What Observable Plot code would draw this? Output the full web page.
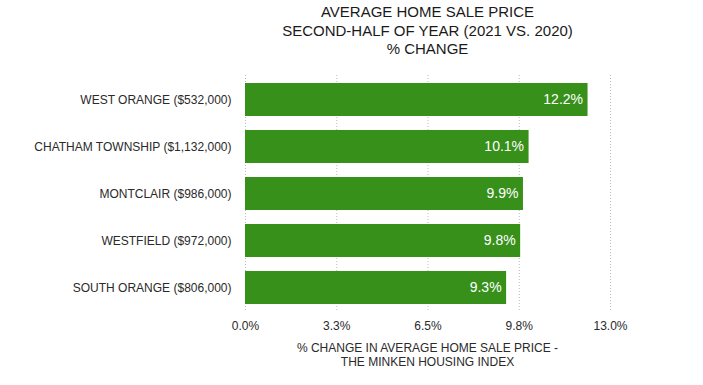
<!DOCTYPE html>
<html>
<head>
<meta charset="utf-8">
<script src="https://cdn.jsdelivr.net/npm/d3@7"></script>
<script src="https://cdn.jsdelivr.net/npm/@observablehq/plot@0.6"></script>
<style>
  html, body { margin: 0; padding: 0; background: #fff; }
  body { width: 703px; height: 385px; overflow: hidden; font-family: "Liberation Sans", Arial, Helvetica, sans-serif; }
  #title { margin-left: 245px; width: 365px; height: 66px; text-align: center; font-size: 15px; line-height: 18.5px; color: #1a1a1a; padding-top: 3px; box-sizing: border-box; white-space: nowrap; }
  #title div { margin-left: -60px; margin-right: -60px; }
  #caption { margin-left: 245px; width: 365px; text-align: center; font-size: 12px; line-height: 14px; color: #2a2a2a; padding-top: 3px; white-space: nowrap; }
  #caption div { margin-left: -60px; margin-right: -60px; }
  svg { display: block; }
</style>
</head>
<body>
<div id="title"><div>AVERAGE HOME SALE PRICE</div><div>SECOND-HALF OF YEAR (2021 VS. 2020)</div><div>% CHANGE</div></div>
<div id="chart"></div>
<div id="caption"><div>% CHANGE IN AVERAGE HOME SALE PRICE -</div><div>THE MINKEN HOUSING INDEX</div></div>
<script>
const towns = ["WEST ORANGE ($532,000)", "CHATHAM TOWNSHIP ($1,132,000)", "MONTCLAIR ($986,000)", "WESTFIELD ($972,000)", "SOUTH ORANGE ($806,000)"];
const changes = [12.2, 10.1, 9.9, 9.8, 9.3];
const valueLabels = ["12.2%", "10.1%", "9.9%", "9.8%", "9.3%"];
const tickValues = [0, 3.25, 6.5, 9.75, 13];
const tickLabels = ["0.0%", "3.3%", "6.5%", "9.8%", "13.0%"];

const data = towns.map((t, i) => ({town: t, value: changes[i], label: valueLabels[i]}));

const chart = Plot.plot({
  width: 703,
  height: 272,
  marginTop: 9,
  marginBottom: 27,
  marginLeft: 245,
  marginRight: 93,
  style: {fontFamily: '"Liberation Sans", Arial, Helvetica, sans-serif', fontSize: "12px", color: "#2a2a2a", background: "#fff"},
  x: {domain: [0, 13], ticks: tickValues, tickFormat: (d) => tickLabels[tickValues.indexOf(d)], label: null, tickSize: 0, tickPadding: 10},
  y: {domain: towns, paddingInner: 0.3, paddingOuter: 0.15, label: null, tickSize: 0, tickPadding: 14},
  marks: [
    Plot.gridX(tickValues, {stroke: "#bbb", strokeOpacity: 1, strokeDasharray: "1,2"}),
    Plot.barX(data, {y: "town", x: "value", fill: "#37901a"}),
    Plot.text(data, {y: "town", x: "value", text: "label", textAnchor: "end", dx: -5, fill: "#fff", fontSize: 14})
  ]
});
document.getElementById("chart").appendChild(chart);
</script>
</body>
</html>
